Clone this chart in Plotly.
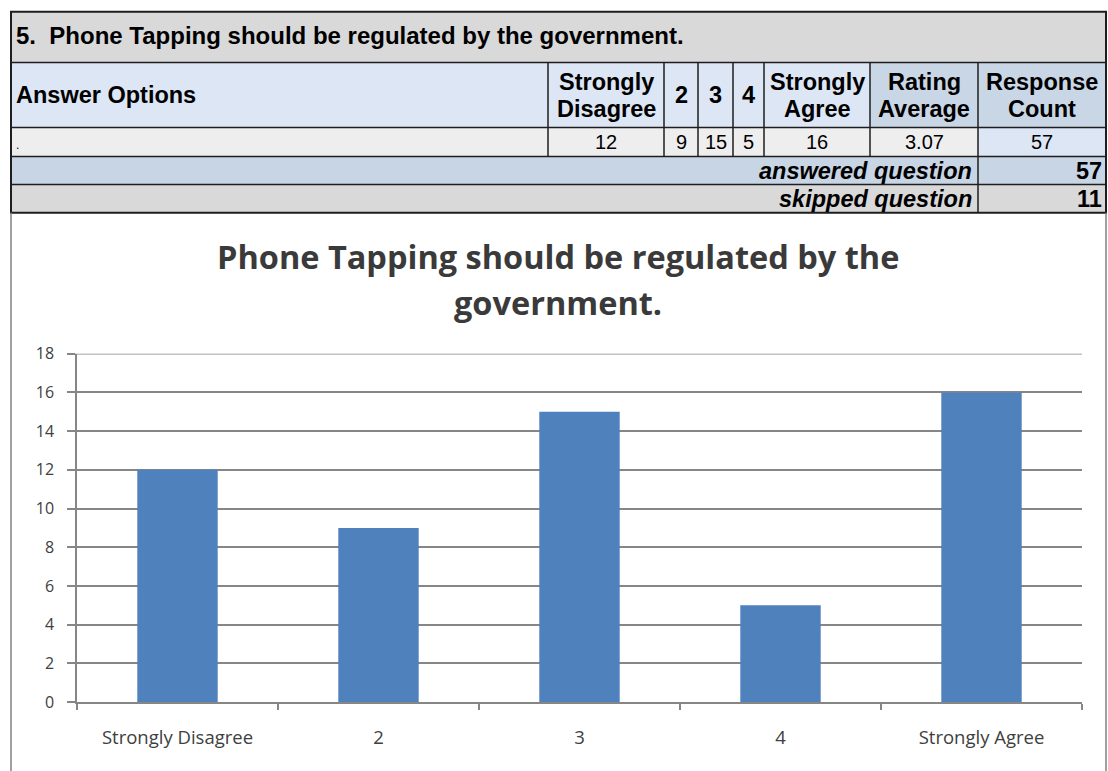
import plotly.graph_objects as go

# ---------------- data ----------------
question = "5.\u00a0 Phone Tapping should be regulated by the government."
header_labels = ["Answer Options", "Strongly<br>Disagree", "2", "3", "4",
                 "Strongly<br>Agree", "Rating<br>Average", "Response<br>Count"]
row_values = [".", "12", "9", "15", "5", "16", "3.07", "57"]
answered_label = "answered question"
answered_count = 57
skipped_label = "skipped question"
skipped_count = 11

chart_title_lines = ["Phone Tapping should be regulated by the", "government."]
categories = ["Strongly Disagree", "2", "3", "4", "Strongly Agree"]
counts = [12, 9, 15, 5, 16]
y_ticks = [0, 2, 4, 6, 8, 10, 12, 14, 16, 18]
y_max = 18

# ---------------- layout constants ----------------
# Target positions are given in pixels of the 1108x771 picture; the page keeps an
# 8px body margin and the photo is slightly squeezed vertically, so vertical
# positions are converted with the measured factor below.
W = 1108
H = 784
V_SCALE = 0.971
V_OFF = 3.8
BODY = 8

col_edges = [11, 548, 664, 698, 733, 764, 870, 978, 1106]
row_edges = [9.5, 63, 128, 157, 185, 213]
plot_x = (77, 1082)
plot_y = (354, 702)


def px(x):
    return x / W


def fy(Y):
    return max((Y - V_OFF) / V_SCALE - BODY, 0.8)


def py(Y):
    return 1 - fy(Y) / H


TFONT = "Liberation Sans, Arial, sans-serif"
NFONT = "Liberation Sans Narrow, Liberation Sans, Arial, sans-serif"
CFONT = "Open Sans, Lato, sans-serif"

C_GRAY = "#d9d9d9"
C_HEAD = "#dce6f4"
C_HEAD_DARK = "#c9d6e6"
C_DATA = "#eeeeee"
C_ANS = "#c8d5e4"
C_LINE = "#1e1e1e"
AX = "#868686"

shapes = []
annotations = []


def rect(x0, y0, x1, y1, fill):
    shapes.append(dict(type="rect", xref="paper", yref="paper",
                       x0=px(x0), x1=px(x1), y0=py(y1), y1=py(y0),
                       fillcolor=fill, line=dict(width=0), layer="below"))


def line(x0, y0, x1, y1, color=C_LINE, width=1.5):
    shapes.append(dict(type="line", xref="paper", yref="paper",
                       x0=px(x0), x1=px(x1), y0=py(y0), y1=py(y1),
                       line=dict(color=color, width=width)))


def text(x, y, s, anchor="center", size=23.5, weight="bold", style="normal",
         family=TFONT, color="#000000"):
    annotations.append(dict(xref="paper", yref="paper", x=px(x), y=py(y),
                            text=s, showarrow=False, xanchor=anchor, yanchor="middle",
                            align=anchor if anchor != "center" else "center",
                            borderpad=0,
                            font=dict(family=family, size=size, color=color,
                                      weight=weight, style=style)))


# ---- table backgrounds ----
L, R = col_edges[0], col_edges[-1]
rect(L, row_edges[0], R, row_edges[1], C_GRAY)
for i in range(len(col_edges) - 1):
    fill = C_HEAD_DARK if i >= 6 else C_HEAD
    rect(col_edges[i], row_edges[1], col_edges[i + 1], row_edges[2], fill)
    rect(col_edges[i], row_edges[2], col_edges[i + 1], row_edges[3],
         C_HEAD if i == 7 else C_DATA)
rect(L, row_edges[3], R, row_edges[4], C_ANS)
rect(L, row_edges[4], R, row_edges[5], C_GRAY)

# ---- table borders ----
for y in row_edges[1:-1]:
    line(L, y, R, y)
for x in col_edges[1:-1]:
    line(x, row_edges[1], x, row_edges[3])
line(col_edges[7], row_edges[3], col_edges[7], row_edges[5])
shapes.append(dict(type="rect", xref="paper", yref="paper",
                   x0=px(L), x1=px(R), y0=py(row_edges[5]), y1=py(row_edges[0]),
                   line=dict(color=C_LINE, width=2), fillcolor="rgba(0,0,0,0)"))

# ---- chart area border ----
shapes.append(dict(type="line", xref="paper", yref="paper", x0=px(L), x1=px(L),
                   y0=0, y1=py(row_edges[5]), line=dict(color="#808080", width=1.5)))
shapes.append(dict(type="line", xref="paper", yref="paper", x0=px(R), x1=px(R),
                   y0=0, y1=py(row_edges[5]), line=dict(color="#808080", width=1.5)))

# ---- top gridline (plotly clips grid lines at the range end) ----
shapes.append(dict(type="line", xref="paper", yref="y", x0=px(plot_x[0] - 8),
                   x1=px(plot_x[1]), y0=y_max, y1=y_max,
                   line=dict(color=AX, width=1.5)))

# ---- table text ----
text(15, 36, question, anchor="left", size=24)
hy = (row_edges[1] + row_edges[2]) / 2
dy = (row_edges[2] + row_edges[3]) / 2
text(15, hy, header_labels[0], anchor="left")
for i in range(1, len(header_labels)):
    cx = (col_edges[i] + col_edges[i + 1]) / 2
    parts = header_labels[i].split("<br>")
    n = len(parts)
    for k, part in enumerate(parts):
        text(cx, hy + (k - (n - 1) / 2) * 27, part)
text(15, dy + 3, row_values[0], anchor="left", size=12, weight="normal")
for i in range(1, len(row_values)):
    cx = (col_edges[i] + col_edges[i + 1]) / 2
    text(cx, dy, row_values[i], size=20, weight="normal", family=NFONT)
ay = (row_edges[3] + row_edges[4]) / 2
sy = (row_edges[4] + row_edges[5]) / 2
text(col_edges[7] - 5, ay, answered_label, anchor="right", style="italic")
text(R - 3, ay, str(answered_count), anchor="right")
text(col_edges[7] - 5, sy, skipped_label, anchor="right", style="italic")
text(R - 3, sy, str(skipped_count), anchor="right")

# ---- chart title ----
text(558, 257, chart_title_lines[0], size=32.5, family=CFONT, color="#3a3a3a")
text(558, 303, chart_title_lines[1], size=32.5, family=CFONT, color="#3a3a3a")

# ---------------- figure ----------------
fig = go.Figure(go.Bar(x=categories, y=counts, width=0.4,
                       marker=dict(color="#4f81bd", line=dict(width=0))))

fig.update_layout(
    width=W, height=H, autosize=False,
    margin=dict(l=0, r=0, t=0, b=0, pad=0),
    paper_bgcolor="white", plot_bgcolor="white",
    showlegend=False,
    shapes=shapes, annotations=annotations,
    xaxis=dict(domain=[px(plot_x[0]), px(plot_x[1])], type="category",
               tickson="boundaries", ticks="outside", ticklen=6, tickcolor=AX,
               tickwidth=1.5, showline=True, linecolor=AX, linewidth=1.5,
               showgrid=False, ticklabelstandoff=18,
               tickfont=dict(family=CFONT, size=18.5, color="#404040")),
    yaxis=dict(domain=[py(plot_y[1]), py(plot_y[0])], range=[0, y_max],
               tickvals=y_ticks, ticks="outside", ticklen=8, tickcolor=AX,
               tickwidth=1.5, showline=True, linecolor=AX, linewidth=1.5,
               showgrid=True, gridcolor=AX, gridwidth=1.5, zeroline=False,
               ticklabelstandoff=10,
               tickfont=dict(family=CFONT, size=16, color="#404040")),
)

fig.write_html("out.html")
